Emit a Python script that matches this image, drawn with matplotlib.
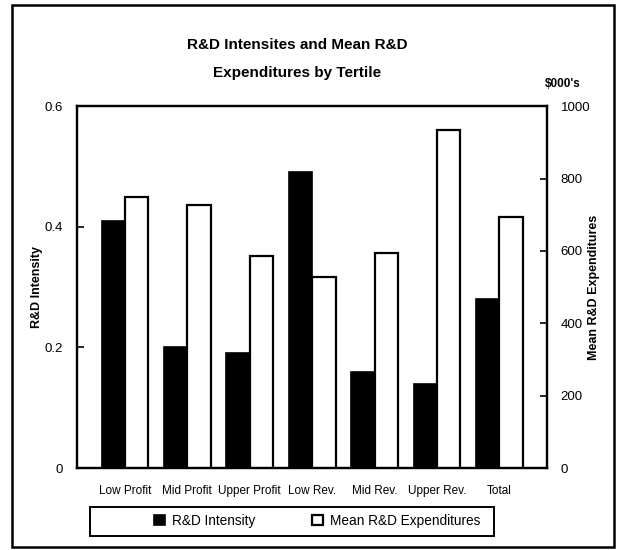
import numpy as np
import matplotlib
matplotlib.use("Agg")
import matplotlib.pyplot as plt
from matplotlib.patches import Rectangle

plt.rcParams['font.family'] = ['Liberation Sans', 'DejaVu Sans']

# data
categories = ["Low Profit", "Mid Profit", "Upper Profit", "Low Rev.",
              "Mid Rev.", "Upper Rev.", "Total"]
intensity = [0.41, 0.20, 0.19, 0.49, 0.16, 0.14, 0.28]
expenditures = [750, 728, 586, 528, 594, 935, 694]

x = np.arange(len(categories))
w = 0.375

fig = plt.figure(figsize=(6.2, 5.5), dpi=100)
ax = fig.add_axes([0.124, 0.149, 0.758, 0.658])
ax2 = ax.twinx()

ax.bar(x - w / 2, intensity, w, color='black', edgecolor='black', linewidth=1.2,
       label='R&D Intensity')
ax2.bar(x + w / 2, expenditures, w, color='white', edgecolor='black', linewidth=1.6,
        label='Mean R&D Expenditures')

ax.set_xlim(-0.77, 6.76)
ax.set_ylim(0, 0.6)
ax2.set_ylim(0, 1000)
ax.set_yticks([0, 0.2, 0.4, 0.6])
ax.set_yticklabels(['0', '0.2', '0.4', '0.6'])
ax2.set_yticks([0, 200, 400, 600, 800, 1000])
ax.set_xticks(x)
ax.set_xticklabels(categories, fontsize=8.5)
ax.tick_params(axis='x', length=0, pad=12)
ax.tick_params(axis='y', direction='in', length=5, width=1.2, labelsize=9.5, pad=10)
ax2.tick_params(axis='y', direction='in', length=5, width=1.2, labelsize=9.5, pad=10)

for a in (ax, ax2):
    for s in a.spines.values():
        s.set_linewidth(1.6)

ax.set_ylabel('R&D Intensity', fontsize=9, fontweight='bold', labelpad=1)
ax2.set_ylabel('Mean R&D Expenditures', fontsize=9, fontweight='bold', labelpad=-2)

fig.text(0.479, 0.893, 'R&D Intensites and Mean R&D\nExpenditures by Tertile',
         ha='center', va='center', fontsize=11, fontweight='bold', linespacing=2.3)
fig.text(0.908, 0.847, "$000's", ha='center', va='center', fontsize=8.5, fontweight='bold')

h1, l1 = ax.get_legend_handles_labels()
h2, l2 = ax2.get_legend_handles_labels()
leg = fig.legend(h1 + h2, l1 + l2, loc='center', bbox_to_anchor=(0.512, 0.053),
                 ncol=2, frameon=False, fontsize=9.8,
                 handlelength=0.8, handleheight=0.8, columnspacing=4.2,
                 handletextpad=0.5)

# legend box and outer frame
fig.patches.append(Rectangle((90 / 620, 1 - 536 / 550), 404 / 620, 29 / 550,
                             transform=fig.transFigure, fill=False,
                             edgecolor='black', linewidth=1.4))
fig.patches.append(Rectangle((0.019, 0.006), 0.972, 0.985, transform=fig.transFigure,
                             fill=False, edgecolor='black', linewidth=1.8))

fig.savefig('out.png', dpi=100)
